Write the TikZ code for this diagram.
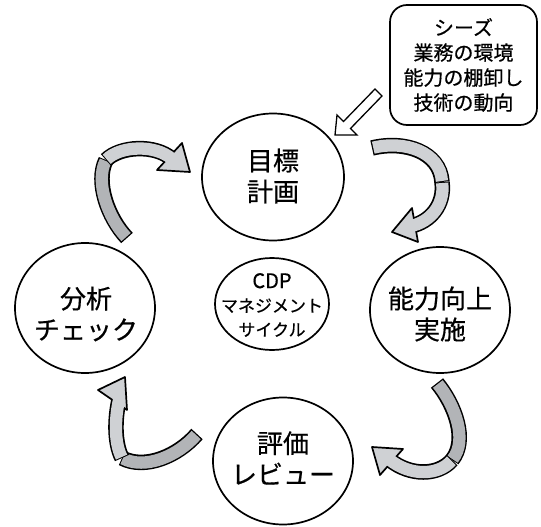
\documentclass[tikz,border=0pt]{standalone}
\usepackage{fontspec}
\setmainfont{Noto Sans CJK JP}[FakeBold=0.5]
\usetikzlibrary{shapes.geometric}
\definecolor{ribbonlight}{RGB}{207,209,212}
\definecolor{ribbondark}{RGB}{178,180,183}
\newcommand{\ribbonseg}[2]{%
  \draw[line width=15.5pt, black] #2;
  \draw[line width=12.3pt, #1, shorten <=1.3pt, shorten >=1pt] #2;}
\newcommand{\ribbonend}[2]{%
  \draw[line width=15.5pt, black] #2;}
\begin{document}
\begin{tikzpicture}[x=1pt,y=1pt,yscale=-1,
  stage/.style={draw, line width=1.7pt, ellipse, inner sep=0pt},
  stagetext/.style={align=center, font=\fontsize{26}{31}\selectfont},
  headshape/.style={fill=ribbonlight, draw=black, line width=1.7pt, line join=round},
  hollow/.style={fill=white, draw=black, line width=1.3pt, line join=miter}]
\useasboundingbox (0,0) rectangle (541,527);

% stage ellipses
\node[stage, minimum width=142pt, minimum height=127pt] (plan) at (273,177) {};
\node[stage, minimum width=140pt, minimum height=126pt] (act) at (440,310) {};
\node[stage, minimum width=140pt, minimum height=130pt] (check) at (85,308) {};
\node[stage, minimum width=140pt, minimum height=127pt] (review) at (283,461) {};
\node[stage, minimum width=114pt, minimum height=92pt] (cdp) at (272,304) {};

\node[stagetext] (plantxt) at (273,176) {目標\\計画};
\node[stagetext] (acttxt) at (440,314) {能力向上\\実施};
\node[stagetext] (checktxt) at (86,314) {分析\\チェック};
\node[stagetext] (reviewtxt) at (283,458) {評価\\レビュー};
\node[align=center, font=\fontsize{17}{24}\selectfont] (cdptxt) at (272,305) {{\fontsize{20}{24}\selectfont CDP}\\マネジメント\\サイクル};

% seeds box
\node[draw, line width=1.7pt, rounded corners=17pt, minimum width=147pt, minimum height=120pt,
  align=center, font=\fontsize{20}{25}\selectfont] (seeds) at (463.5,65)
  {シーズ\\業務の環境\\能力の棚卸し\\技術の動向};

% hollow arrow from seeds to plan
\draw[hollow] (375,89) -- (343.5,121.5) -- (337,115) -- (335,135) -- (357,135) -- (350.5,128.5) -- (382,96) -- cycle;

% arrow 1: plan -> act
\coordinate (a1s) at (372,148); \coordinate (a1f) at (442,182); \coordinate (a1e) at (411,226);
\ribbonseg{ribbonlight}{(a1s) .. controls (405,140) and (440,152) .. (a1f)}
\ribbonend{}{(a1f) .. controls (445,205) and (430,222) .. (a1e)}
\draw[headshape] (412,208) -- (392,232) -- (418,242) -- cycle;
\draw[line width=12.3pt, ribbonlight, shorten <=1pt] (a1f) .. controls (445,205) and (430,222) .. (a1e);

% arrow 2: act -> review
\coordinate (a2s) at (437,383); \coordinate (a2f) at (452,460); \coordinate (a2e) at (390,460);
\ribbonseg{ribbondark}{(a2s) .. controls (455,405) and (468,440) .. (a2f)}
\ribbonend{}{(a2f) .. controls (438,476) and (410,476) .. (a2e)}
\draw[headshape] (403,449) -- (372,447) -- (380,475) -- cycle;
\draw[line width=12.3pt, ribbonlight, shorten <=1pt] (a2f) .. controls (438,476) and (410,476) .. (a2e);

% arrow 3: review -> check
\coordinate (a3s) at (197,434); \coordinate (a3f) at (122,458); \coordinate (a3e) at (119,400);
\ribbonseg{ribbondark}{(a3s) .. controls (178,456) and (145,470) .. (a3f)}
\ribbonend{}{(a3f) .. controls (114,442) and (115,418) .. (a3e)}
\draw[headshape] (98,390) -- (125,377) -- (127,410) -- cycle;
\draw[line width=12.3pt, ribbonlight, shorten <=1pt] (a3f) .. controls (114,442) and (115,418) .. (a3e);

% arrow 4: check -> plan
\coordinate (a4s) at (127,238); \coordinate (a4f) at (106,160); \coordinate (a4e) at (172,159);
\ribbonseg{ribbondark}{(a4s) .. controls (108,218) and (95,182) .. (a4f)}
\ribbonend{}{(a4f) .. controls (120,146) and (155,144) .. (a4e)}
\draw[headshape] (182,143) -- (190,172) -- (157,170) -- cycle;
\draw[line width=12.3pt, ribbonlight, shorten <=1pt] (a4f) .. controls (120,146) and (155,144) .. (a4e);
\end{tikzpicture}
\end{document}
